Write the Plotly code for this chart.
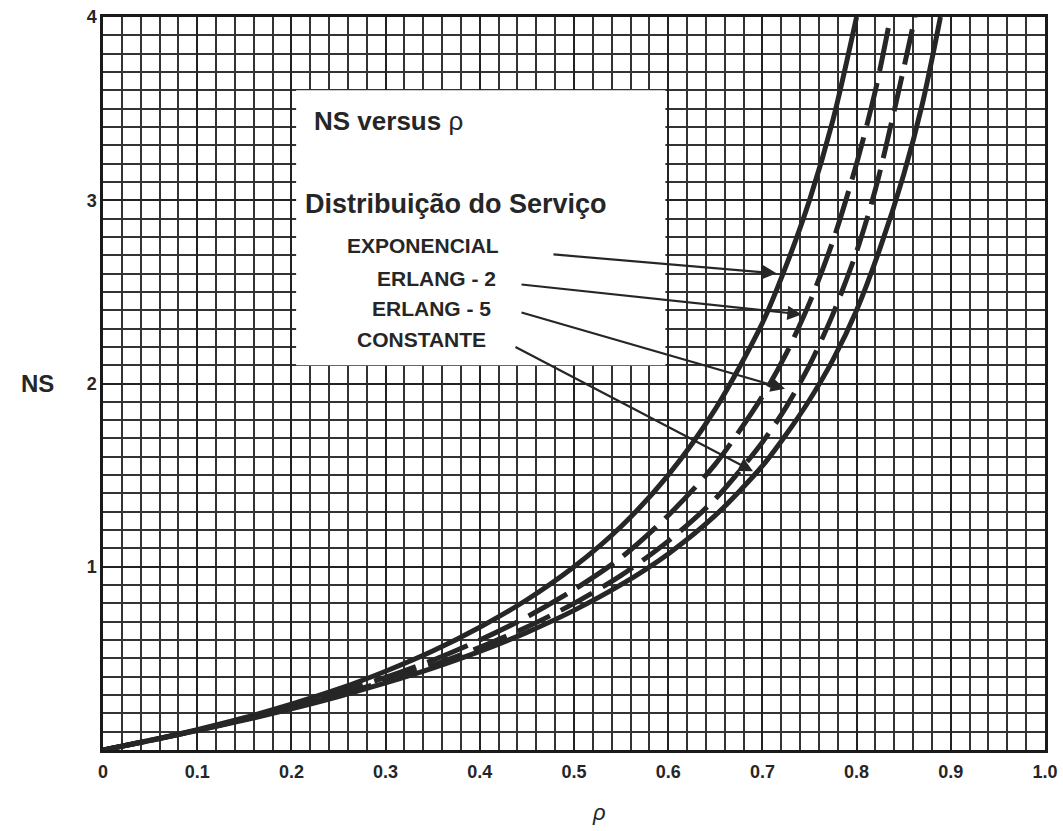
import plotly.graph_objects as go

# ---- data ----
rho_exp = [0, 0.05, 0.1, 0.15, 0.2, 0.25, 0.3, 0.35, 0.4, 0.45, 0.5, 0.55, 0.6, 0.65, 0.7, 0.725, 0.75, 0.775, 0.8]
ns_exp = [0, 0.053, 0.111, 0.176, 0.25, 0.333, 0.43, 0.54, 0.67, 0.82, 1.0, 1.22, 1.5, 1.86, 2.33, 2.64, 3.0, 3.44, 4.0]

rho_e2 = [0, 0.05, 0.1, 0.15, 0.2, 0.25, 0.3, 0.35, 0.4, 0.45, 0.5, 0.55, 0.6, 0.65, 0.7, 0.725, 0.75, 0.775, 0.8, 0.82, 0.836]
ns_e2 = [0, 0.052, 0.108, 0.17, 0.238, 0.313, 0.396, 0.49, 0.6, 0.726, 0.875, 1.05, 1.28, 1.56, 1.93, 2.16, 2.44, 2.78, 3.2, 3.6, 4.0]

rho_e5 = [0, 0.05, 0.1, 0.15, 0.2, 0.25, 0.3, 0.35, 0.4, 0.45, 0.5, 0.55, 0.6, 0.65, 0.7, 0.725, 0.75, 0.775, 0.8, 0.82, 0.84, 0.862]
ns_e5 = [0, 0.052, 0.107, 0.166, 0.23, 0.30, 0.377, 0.463, 0.56, 0.671, 0.80, 0.953, 1.14, 1.37, 1.68, 1.87, 2.10, 2.38, 2.72, 3.06, 3.49, 4.0]

rho_c = [0, 0.05, 0.1, 0.15, 0.2, 0.25, 0.3, 0.35, 0.4, 0.45, 0.5, 0.55, 0.6, 0.65, 0.7, 0.725, 0.75, 0.775, 0.8, 0.825, 0.85, 0.87, 0.889]
ns_c = [0, 0.051, 0.106, 0.163, 0.225, 0.292, 0.366, 0.447, 0.538, 0.642, 0.762, 0.902, 1.07, 1.28, 1.55, 1.72, 1.91, 2.13, 2.40, 2.74, 3.14, 3.53, 4.0]

x_tick_vals = [0, 0.1, 0.2, 0.3, 0.4, 0.5, 0.6, 0.7, 0.8, 0.9, 1.0]
x_tick_text = ["0", "0.1", "0.2", "0.3", "0.4", "0.5", "0.6", "0.7", "0.8", "0.9", "1.0"]
y_tick_vals = [0, 1, 2, 3, 4]
y_tick_text = ["", "1", "2", "3", "4"]

labels = ["EXPONENCIAL", "ERLANG - 2", "ERLANG - 5", "CONSTANTE"]
label_pos = [(0.3397, 2.754), (0.3535, 2.574), (0.3487, 2.410), (0.3383, 2.240)]
arrow_tail = [(0.4766, 2.705), (0.4427, 2.541), (0.4427, 2.390), (0.4363, 2.204)]
arrow_head = [(0.715, 2.601), (0.7417, 2.377), (0.724, 1.971), (0.690, 1.521)]

INK = "#262626"
FONT = "Liberation Sans, Arial, sans-serif"

fig = go.Figure()
line_specs = [
    (rho_exp, ns_exp, "solid", "EXPONENCIAL"),
    (rho_e2, ns_e2, "44px,12px", "ERLANG - 2"),
    (rho_e5, ns_e5, "36px,12px", "ERLANG - 5"),
    (rho_c, ns_c, "solid", "CONSTANTE"),
]
for xs, ys, dash, name in line_specs:
    fig.add_trace(go.Scatter(
        x=xs, y=ys, mode="lines", name=name,
        line=dict(color=INK, width=5, dash=dash, shape="spline", smoothing=0.8),
        showlegend=False, hoverinfo="skip",
    ))

# white label box covering the grid
fig.add_shape(type="rect", xref="x", yref="y", x0=0.205, x1=0.597, y0=2.1, y1=3.6,
              fillcolor="white", line=dict(width=0), layer="between")

annotations = []
annotations.append(dict(x=0.222, y=3.43, xref="x", yref="y", xanchor="left", yanchor="middle",
                        text="<b>NS versus</b> ρ", showarrow=False,
                        font=dict(family=FONT, size=26, color=INK)))
annotations.append(dict(x=0.212, y=2.98, xref="x", yref="y", xanchor="left", yanchor="middle",
                        text="<b>Distribuição do Serviço</b>", showarrow=False,
                        font=dict(family=FONT, size=27, color=INK)))
for t, (lx, ly) in zip(labels, label_pos):
    annotations.append(dict(x=lx, y=ly, xref="x", yref="y", xanchor="center", yanchor="middle",
                            text="<b>%s</b>" % t, showarrow=False,
                            font=dict(family=FONT, size=21, color=INK)))
for (tx, ty), (hx, hy) in zip(arrow_tail, arrow_head):
    annotations.append(dict(x=hx, y=hy, ax=tx, ay=ty, xref="x", yref="y", axref="x", ayref="y",
                            text="", showarrow=True, arrowhead=2, arrowsize=1.3, arrowwidth=2.2,
                            arrowcolor=INK, standoff=0, startstandoff=0))
annotations.append(dict(x=-0.07, y=2.0, xref="paper", yref="y", xanchor="center", yanchor="middle",
                        text="<b>NS</b>", showarrow=False, font=dict(family=FONT, size=24, color=INK)))
annotations.append(dict(x=0.527, y=-0.085, xref="x", yref="paper", xanchor="center", yanchor="middle",
                        text="<i>ρ</i>", showarrow=False, font=dict(family=FONT, size=22, color=INK)))
fig.update_layout(annotations=annotations)

fig.update_layout(
    width=1063, height=831,
    margin=dict(l=103, r=18, t=17, b=81, autoexpand=False),
    paper_bgcolor="white", plot_bgcolor="white",
    showlegend=False,
)
fig.update_xaxes(
    range=[0, 1], tickmode="array", tickvals=x_tick_vals, ticktext=x_tick_text,
    automargin=False,
    showgrid=True, gridcolor="#222222", gridwidth=1.9,
    minor=dict(tickmode="linear", tick0=0, dtick=0.02, showgrid=True, gridcolor="#333333", gridwidth=1.5),
    showline=True, mirror=True, linecolor="#1a1a1a", linewidth=2.5,
    ticks="", zeroline=False, ticklabelstandoff=4,
    tickfont=dict(family=FONT, size=18, color=INK, weight="bold"),
)
fig.update_yaxes(
    range=[0, 4], tickmode="array", tickvals=y_tick_vals, ticktext=y_tick_text,
    automargin=False,
    showgrid=True, gridcolor="#222222", gridwidth=2.1,
    minor=dict(tickmode="linear", tick0=0, dtick=0.1, showgrid=True, gridcolor="#333333", gridwidth=1.5),
    showline=True, mirror=True, linecolor="#1a1a1a", linewidth=2.5,
    ticks="", zeroline=False,
    tickfont=dict(family=FONT, size=18, color=INK, weight="bold"),
)

fig.write_html(
    "out.html",
    config={"displayModeBar": False},
    post_script="document.body.style.margin='0';document.documentElement.style.overflow='hidden';",
)
